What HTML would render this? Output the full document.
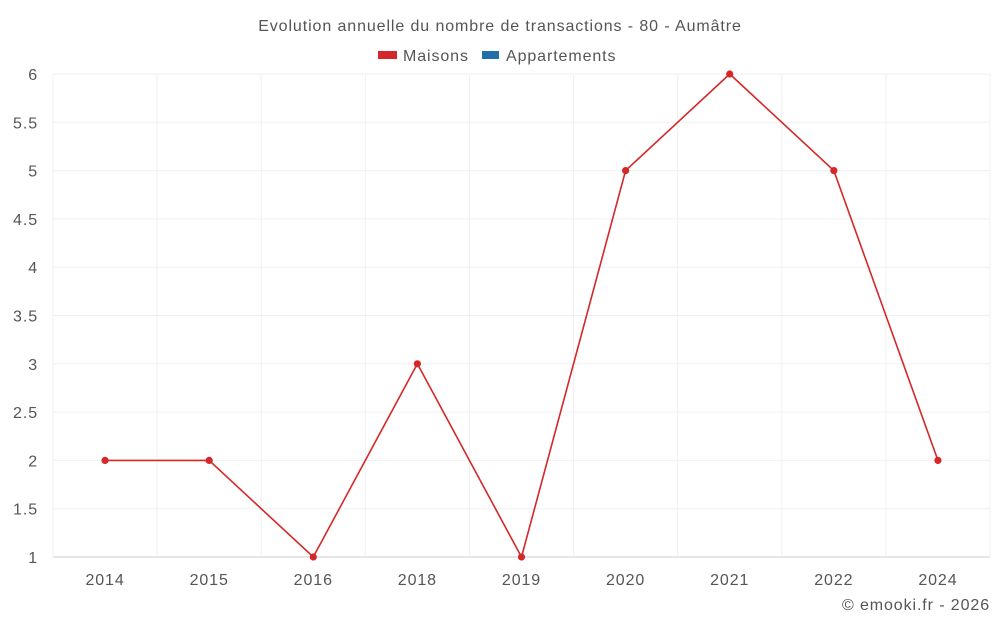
<!DOCTYPE html>
<html><head><meta charset="utf-8"><style>
body{margin:0;background:#fff;font-family:"Liberation Sans",sans-serif;}
svg text{font-family:"Liberation Sans",sans-serif;fill:#555;letter-spacing:0.9px;}
</style></head><body>
<svg width="1000" height="625">
<text x="500" y="31" text-anchor="middle" font-size="16">Evolution annuelle du nombre de transactions - 80 - Aumâtre</text>
<g><rect x="378" y="51" width="19" height="8" fill="#d62728"/><text x="403" y="61" font-size="16">Maisons</text></g>
<g><rect x="482" y="51" width="17" height="8" fill="#1f6fa8"/><text x="506" y="61" font-size="16">Appartements</text></g>
<g id="grid"></g>
<g id="marks"></g>
<text x="990" y="610" text-anchor="end" font-size="16">© emooki.fr - 2026</text>
</svg>
<script>
const categories=["2014","2015","2016","2018","2019","2020","2021","2022","2024"];
const maisons=[2,2,1,3,1,5,6,5,2];
const yTicks=[1,1.5,2,2.5,3,3.5,4,4.5,5,5.5,6];
const L=53,R=990,T=74,B=557,yMin=1,yMax=6;
const bw=(R-L)/categories.length;
const x=i=>L+bw*(i+0.5);
const y=v=>B-(v-yMin)/(yMax-yMin)*(B-T);
const ns="http://www.w3.org/2000/svg";
const g=document.getElementById('grid'),m=document.getElementById('marks');
function mk(tag,a,p){const e=document.createElementNS(ns,tag);for(const k in a)e.setAttribute(k,a[k]);p.appendChild(e);return e;}
yTicks.forEach(v=>{
 const l=mk('line',{x1:L,x2:R,y1:y(v),y2:y(v),stroke:v===yMin?'#ccc':'#f0f0f0'},g);
 
 
 const t=mk('text',{x:38,y:y(v)+6,'text-anchor':'end','font-size':16},g);t.textContent=v;
 
 
});
for(let i=0;i<=categories.length;i++){
 const l=mk('line',{x1:L+bw*i,x2:L+bw*i,y1:T,y2:B,stroke:'#f0f0f0'},g);
 
 
}
categories.forEach((c,i)=>{
 const t=mk('text',{x:x(i),y:585,'text-anchor':'middle','font-size':16},g);t.textContent=c;
 
 
});
const p=mk('polyline',{points:maisons.map((v,i)=>x(i)+','+y(v)).join(' '),fill:'none',stroke:'#d62728','stroke-width':1.6},m);


maisons.forEach((v,i)=>{
 const c=mk('circle',{cx:x(i),cy:y(v),r:3.6,fill:'#d62728'},m);
 
 
});
</script>
</body></html>
